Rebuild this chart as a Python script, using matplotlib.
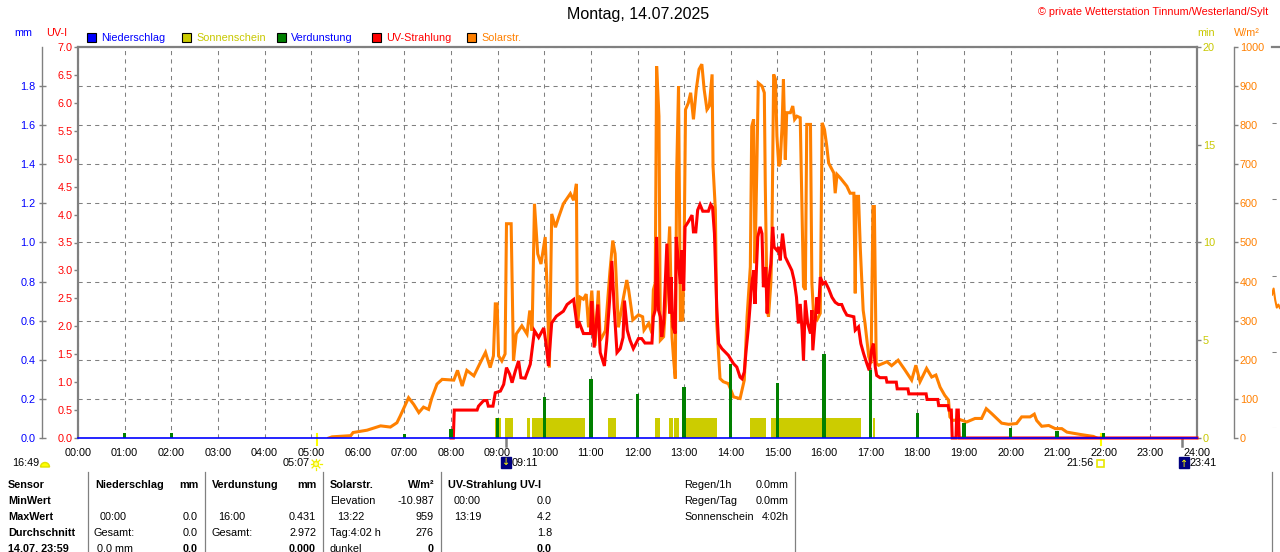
import math
import matplotlib
matplotlib.use("Agg")
import matplotlib.pyplot as plt
import matplotlib.patches as mpatches
import matplotlib.transforms as mtrans

plt.rcParams['font.family'] = ['Liberation Sans', 'DejaVu Sans']
plt.rcParams['font.size'] = 7.8

# ---------------------------------------------------------------- data
title = "Montag, 14.07.2025"
copyright_txt = "© private Wetterstation Tinnum/Westerland/Sylt"

hour_ticks = [0, 1, 2, 3, 4, 5, 6, 7, 8, 9, 10, 11, 12, 13, 14, 15, 16, 17, 18, 19, 20, 21, 22, 23, 24]
hour_labels = ["00:00", "01:00", "02:00", "03:00", "04:00", "05:00", "06:00", "07:00", "08:00",
               "09:00", "10:00", "11:00", "12:00", "13:00", "14:00", "15:00", "16:00", "17:00",
               "18:00", "19:00", "20:00", "21:00", "22:00", "23:00", "24:00"]

uv_ticks = [0.0, 0.5, 1.0, 1.5, 2.0, 2.5, 3.0, 3.5, 4.0, 4.5, 5.0, 5.5, 6.0, 6.5, 7.0]
mm_ticks = [0.0, 0.2, 0.4, 0.6, 0.8, 1.0, 1.2, 1.4, 1.6, 1.8]
sun_ticks = [0, 5, 10, 15, 20]
solar_ticks = [0, 100, 200, 300, 400, 500, 600, 700, 800, 900, 1000]

# Solar radiation (W/m2), time in decimal hours
solar_t = [5.38, 5.45, 5.85, 5.90, 6.20, 6.49, 6.70, 6.84, 6.91, 7.09,
           7.20, 7.31, 7.41, 7.52, 7.59, 7.70, 7.81, 8.06, 8.14, 8.24,
           8.34, 8.49, 8.63, 8.74, 8.84, 8.91, 8.95, 8.99, 9.02, 9.09,
           9.16, 9.19, 9.29, 9.34, 9.40, 9.52, 9.63, 9.69, 9.74, 9.79,
           9.86, 9.93, 10.02, 10.06, 10.11, 10.16, 10.24, 10.31, 10.41, 10.56,
           10.63, 10.69, 10.71, 10.77, 10.84, 10.90, 10.95, 11.02, 11.09, 11.16,
           11.20, 11.31, 11.41, 11.47, 11.52, 11.59, 11.70, 11.77, 11.81, 11.90,
           12.02, 12.11, 12.14, 12.24, 12.31, 12.34, 12.38, 12.41, 12.46, 12.49,
           12.56, 12.63, 12.69, 12.74, 12.77, 12.81, 12.84, 12.88, 12.92, 12.97,
           13.00, 13.03, 13.09, 13.14, 13.20, 13.26, 13.32, 13.38, 13.43, 13.49,
           13.54, 13.60, 13.62, 13.67, 13.70, 13.77, 13.84, 13.95, 14.06, 14.20,
           14.29, 14.35, 14.42, 14.45, 14.49, 14.52, 14.56, 14.59, 14.67, 14.72,
           14.74, 14.78, 14.81, 14.86, 14.88, 14.92, 14.96, 14.99, 15.03, 15.06,
           15.10, 15.13, 15.17, 15.20, 15.28, 15.33, 15.37, 15.42, 15.49, 15.53,
           15.56, 15.60, 15.63, 15.71, 15.74, 15.78, 15.85, 15.92, 15.96, 16.01,
           16.06, 16.10, 16.21, 16.24, 16.28, 16.35, 16.49, 16.56, 16.64, 16.67,
           16.69, 16.74, 16.78, 16.84, 16.88, 16.96, 17.01, 17.05, 17.08, 17.12,
           17.17, 17.35, 17.45, 17.59, 17.73, 17.88, 17.97, 18.06, 18.20, 18.31,
           18.40, 18.49, 18.59, 18.67, 18.70, 18.76, 18.92, 19.06, 19.24, 19.38,
           19.48, 19.60, 19.81, 19.96, 20.13, 20.24, 20.42, 20.51, 20.56, 20.67,
           20.82, 20.96, 21.10, 21.21, 21.50, 21.78, 21.85]
solar_v = [0, 3, 6, 14, 20, 31, 28, 39, 56, 103,
           86, 65, 79, 73, 103, 138, 150, 148, 173, 133,
           173, 159, 193, 219, 180, 210, 343, 343, 210, 197,
           215, 548, 548, 197, 266, 287, 266, 326, 274, 599,
           471, 445, 514, 385, 180, 573, 539, 565, 599, 625,
           608, 650, 283, 360, 355, 368, 283, 377, 236, 377,
           249, 274, 428, 505, 471, 283, 360, 404, 379, 302,
           315, 310, 276, 293, 268, 379, 396, 951, 823, 250,
           259, 396, 541, 259, 208, 152, 678, 900, 302, 302,
           481, 840, 857, 883, 815, 891, 943, 956, 891, 840,
           849, 930, 695, 584, 293, 152, 144, 139, 105, 101,
           148, 310, 438, 797, 815, 447, 695, 908, 900, 883,
           652, 327, 310, 396, 481, 930, 917, 772, 695, 703,
           797, 917, 712, 832, 832, 849, 815, 823, 819, 575,
           387, 379, 802, 802, 396, 310, 302, 319, 806, 789,
           746, 703, 678, 626, 674, 665, 644, 626, 626, 370,
           618, 618, 481, 327, 293, 208, 191, 592, 592, 191,
           186, 195, 185, 199, 175, 148, 186, 144, 178, 156,
           161, 130, 109, 97, 54, 45, 47, 41, 50, 50,
           75, 62, 38, 35, 37, 54, 54, 61, 45, 30,
           32, 24, 24, 15, 9, 4, 0]

# UV index, time in decimal hours
uv_t = [8.00, 8.05, 8.07, 8.56, 8.59, 8.70, 8.77, 8.80, 8.90, 8.95,
        9.06, 9.13, 9.19, 9.26, 9.31, 9.38, 9.45, 9.50, 9.59, 9.70,
        9.79, 9.88, 9.99, 10.04, 10.09, 10.16, 10.26, 10.41, 10.49, 10.63,
        10.71, 10.74, 10.84, 10.99, 11.02, 11.07, 11.15, 11.20, 11.29, 11.34,
        11.40, 11.45, 11.50, 11.56, 11.63, 11.69, 11.72, 11.78, 11.84, 11.91,
        12.02, 12.09, 12.16, 12.31, 12.34, 12.38, 12.41, 12.45, 12.49, 12.52,
        12.56, 12.63, 12.69, 12.72, 12.76, 12.81, 12.83, 12.88, 12.92, 12.95,
        12.99, 13.02, 13.09, 13.17, 13.20, 13.25, 13.29, 13.34, 13.40, 13.52,
        13.57, 13.61, 13.65, 13.70, 13.74, 13.81, 13.88, 13.95, 14.06, 14.13,
        14.20, 14.24, 14.29, 14.33, 14.38, 14.45, 14.49, 14.52, 14.58, 14.63,
        14.67, 14.70, 14.75, 14.78, 14.81, 14.86, 14.90, 14.93, 14.99, 15.03,
        15.06, 15.11, 15.17, 15.24, 15.31, 15.36, 15.41, 15.45, 15.49, 15.53,
        15.56, 15.60, 15.65, 15.71, 15.74, 15.76, 15.81, 15.85, 15.88, 15.92,
        15.98, 16.03, 16.10, 16.17, 16.24, 16.31, 16.38, 16.43, 16.49, 16.64,
        16.67, 16.74, 16.79, 16.85, 16.92, 16.97, 17.02, 17.06, 17.10, 17.13,
        17.20, 17.33, 17.35, 17.55, 17.57, 17.80, 17.82, 18.19, 18.21, 18.44,
        18.46, 18.66, 18.68, 18.73, 18.75, 18.83, 18.85, 18.88, 18.90, 24.00]
uv_v = [0.0, 0.0, 0.50, 0.50, 0.57, 0.67, 0.67, 0.57, 0.57, 0.81,
        0.84, 0.96, 1.26, 1.14, 0.99, 1.20, 1.38, 1.08, 1.07, 1.32,
        1.92, 1.80, 1.97, 1.68, 1.29, 2.06, 2.18, 2.27, 2.39, 2.48,
        1.97, 2.09, 1.87, 1.87, 2.45, 1.62, 2.39, 1.53, 1.29, 1.74,
        2.45, 3.17, 2.33, 1.53, 1.60, 1.80, 2.46, 1.93, 1.75, 1.60,
        1.78, 1.78, 1.70, 1.70, 2.17, 2.29, 3.60, 2.29, 2.17, 1.81,
        2.05, 3.48, 2.23, 2.88, 1.99, 1.87, 3.60, 3.12, 2.76, 3.36,
        2.64, 3.78, 3.87, 3.99, 3.69, 3.69, 4.08, 4.18, 4.06, 4.06,
        4.18, 4.13, 3.66, 2.34, 1.69, 1.60, 1.54, 1.48, 1.33, 1.27,
        1.09, 1.06, 1.18, 1.57, 1.99, 2.76, 3.00, 2.40, 3.60, 3.78,
        3.66, 2.70, 3.06, 2.23, 2.76, 3.12, 3.78, 3.42, 3.36, 3.42,
        3.18, 3.66, 3.24, 3.12, 3.00, 2.82, 2.52, 2.05, 2.40, 1.93,
        1.39, 2.46, 2.05, 1.87, 2.29, 1.57, 2.11, 2.52, 2.23, 2.88,
        2.76, 2.79, 2.67, 2.52, 2.43, 2.39, 2.39, 2.29, 2.20, 2.17,
        1.93, 1.99, 1.69, 1.51, 1.33, 1.21, 1.57, 1.69, 1.27, 1.12,
        1.08, 1.08, 1.00, 1.00, 0.88, 0.88, 0.79, 0.79, 0.69, 0.69,
        0.58, 0.58, 0.50, 0.50, 0.00, 0.00, 0.50, 0.50, 0.00, 0.00]

# Sunshine (minutes per minute) intervals
sun_start = ["08:56", "09:10", "09:38", "09:44", "11:22", "12:22", "12:40", "12:47",
             "12:58", "14:25", "14:52", "17:03"]
sun_end = ["09:04", "09:20", "09:42", "10:52", "11:32", "12:29", "12:46", "12:53",
           "13:42", "14:45", "16:47", "17:06"]
sun_min = [1.0, 1.0, 1.0, 1.0, 1.0, 1.0, 1.0, 1.0, 1.0, 1.0, 1.0, 1.0]

# Evaporation (mm) per hour
evap_hour = [1, 2, 7, 8, 9, 10, 11, 12, 13, 14, 15, 16, 17, 18, 19, 20, 21, 22]
evap_mm = [0.025, 0.025, 0.022, 0.048, 0.10, 0.21, 0.30, 0.227, 0.26, 0.38,
           0.28, 0.431, 0.35, 0.13, 0.078, 0.05, 0.036, 0.027]

# Precipitation (mm)
rain_t = [0.0, 24.0]
rain_mm = [0.0, 0.0]

sunrise, sunset = "05:07", "21:56"
moonrise, moonset = "09:11", "23:41"
day_length = "16:49"

# neighbouring (cut-off) chart at the right edge
nb_t = [0.0, 0.4, 0.8, 1.2, 1.6, 2.0, 2.4, 2.8]
nb_v = [175, 183, 168, 158, 162, 157, 160, 165]

# summary table
row_titles = ["Sensor", "MinWert", "MaxWert", "Durchschnitt", "14.07. 23:59"]

# ---------------------------------------------------------------- helpers
W, H = 1280, 552
fig = plt.figure(figsize=(W / 100, H / 100), dpi=100)
fig.patch.set_facecolor('white')

GRAY = '#808080'
RED = '#FF0000'
ORANGE = '#FF8000'
BLUE = '#0000FF'
GREEN = '#008000'
YEL = '#CCCC00'
YEL_TXT = '#C8C800'
NAVY = '#000080'
PT = 0.72  # points per pixel


def hm(s):
    h, m = s.split(':')
    return int(h) + int(m) / 60.0


def ftext(x, y, s, ha='left', color='black', size=7.8, weight='normal', **kw):
    fig.text(x / W, 1 - y / H, s, ha=ha, va='center', color=color,
             fontsize=size, fontweight=weight, **kw)


def prect(x, y, w, h, **kw):
    r = mpatches.Rectangle((x / 100, (H - y - h) / 100), w / 100, h / 100,
                           transform=fig.dpi_scale_trans, **kw)
    fig.add_artist(r)
    return r


def pline(x0, y0, x1, y1, **kw):
    l = plt.Line2D([x0 / 100, x1 / 100], [(H - y0) / 100, (H - y1) / 100],
                   transform=fig.dpi_scale_trans, **kw)
    fig.add_artist(l)


def sun_icon(cx, cy, color='#F0F000'):
    c = mpatches.Circle((cx / 100, (H - cy) / 100), 0.025,
                        transform=fig.dpi_scale_trans, facecolor='#FFFFA0',
                        edgecolor=color, linewidth=1.0)
    fig.add_artist(c)
    for k in range(8):
        a = k * math.pi / 4
        pline(cx + 3.5 * math.cos(a), cy + 3.5 * math.sin(a),
              cx + 5.5 * math.cos(a), cy + 5.5 * math.sin(a), color=color, lw=0.9)


X0, X1, YT, YB = 78, 1197, 47, 438
rect = [X0 / W, 1 - YB / H, (X1 - X0) / W, (YB - YT) / H]


def prep(ax):
    ax.set_xlim(0, 24)
    ax.patch.set_visible(False)
    for s in ax.spines.values():
        s.set_visible(False)
    ax.tick_params(axis='x', which='both', bottom=False, labelbottom=False,
                   top=False, labeltop=False)


ax_sol = fig.add_axes(rect)
ax_sun = fig.add_axes(rect)
ax_uv = fig.add_axes(rect)
ax_mm = fig.add_axes(rect)
for a in (ax_sol, ax_sun, ax_uv, ax_mm):
    prep(a)

# ---- solar axes: grid, top border, x labels, right offset axis
ax_sol.set_ylim(0, 1000)
ax_sol.set_xticks(hour_ticks)
ax_sol.set_xticklabels(hour_labels)
ax_sol.tick_params(axis='x', bottom=True, labelbottom=True, length=0, width=0,
                   pad=7.5, labelsize=7.8, labelcolor='black')
ax_sol.yaxis.tick_right()
ax_sol.set_yticks(solar_ticks)
ax_sol.set_yticklabels([str(v) for v in solar_ticks])
ax_sol.tick_params(axis='y', right=True, left=False, labelright=True, labelleft=False,
                   length=4 * PT, width=1, color=GRAY, labelcolor=ORANGE,
                   pad=1.2, labelsize=7.8)
ax_sol.spines['right'].set_visible(True)
ax_sol.spines['right'].set_position(('outward', 37 * PT))
ax_sol.spines['right'].set_color(GRAY)
ax_sol.spines['right'].set_linewidth(1.0)
ax_sol.spines['top'].set_visible(True)
ax_sol.spines['top'].set_color(GRAY)
ax_sol.spines['top'].set_linewidth(1.6)
ax_sol.grid(True, axis='both', color=GRAY, linestyle=(0, (4, 4)), linewidth=0.75)
ax_sol.set_axisbelow(True)
ax_sol.plot(solar_t, solar_v, color=ORANGE, lw=2.2, solid_joinstyle='miter', zorder=3)

# ---- sunshine axes
ax_sun.set_ylim(0, 20)
ax_sun.yaxis.tick_right()
ax_sun.set_yticks(sun_ticks)
ax_sun.set_yticklabels([str(v) for v in sun_ticks])
ax_sun.tick_params(axis='y', right=True, left=False, labelright=True, labelleft=False,
                   length=4 * PT, width=1, color=GRAY, labelcolor=YEL_TXT,
                   pad=1.2, labelsize=7.8)
ax_sun.spines['right'].set_visible(True)
ax_sun.spines['right'].set_color(GRAY)
ax_sun.spines['right'].set_linewidth(1.6)
s0 = [hm(s) for s in sun_start]
s1 = [hm(s) for s in sun_end]
ax_sun.bar(s0, sun_min, width=[b - a for a, b in zip(s0, s1)], align='edge',
           color=YEL, linewidth=0, zorder=2)

# ---- UV axes
ax_uv.set_ylim(0, 7)
ax_uv.set_yticks(uv_ticks)
ax_uv.set_yticklabels(["%.1f" % v for v in uv_ticks])
ax_uv.tick_params(axis='y', left=True, right=False, labelleft=True, labelright=False,
                  length=4.5 * PT, width=1, color=GRAY, labelcolor=RED,
                  pad=0.8, labelsize=7.8)
ax_uv.spines['left'].set_visible(True)
ax_uv.spines['left'].set_color(GRAY)
ax_uv.spines['left'].set_linewidth(1.6)
ax_uv.plot(uv_t, uv_v, color=RED, lw=2.2, solid_joinstyle='miter', zorder=3,
           clip_on=False)

# ---- mm axes (precipitation + evaporation)
ax_mm.set_ylim(0, 2.0)
ax_mm.set_yticks(mm_ticks)
ax_mm.set_yticklabels(["%.1f" % v for v in mm_ticks])
ax_mm.tick_params(axis='y', left=True, right=False, labelleft=True, labelright=False,
                  direction='inout', length=7 * PT, width=1, color=GRAY,
                  labelcolor=BLUE, pad=2.0, labelsize=7.8)
ax_mm.spines['left'].set_visible(True)
ax_mm.spines['left'].set_position(('outward', 36 * PT))
ax_mm.spines['left'].set_color(GRAY)
ax_mm.spines['left'].set_linewidth(1.0)
ax_mm.bar(evap_hour, evap_mm, width=0.075, color=GREEN, linewidth=0, zorder=2)
ax_mm.plot(rain_t, rain_mm, color=BLUE, lw=1.2, zorder=4, clip_on=False)

# ---- sun / moon markers at the time axis
blend = mtrans.blended_transform_factory(ax_sol.transData, ax_sol.transAxes)
for t in (sunrise, sunset):
    ax_sol.plot([hm(t), hm(t)], [0.01, -0.018], transform=blend, color='#FFFF00',
                lw=1.5, clip_on=False, zorder=5)
for t in (moonrise, moonset):
    ax_sol.plot([hm(t), hm(t)], [0.0, -0.02], transform=blend, color=GRAY,
                lw=1.8, clip_on=False, zorder=5)

# ---------------------------------------------------------------- header
ftext(638, 15, title, ha='center', size=11.5)
ftext(1268, 12, copyright_txt, ha='right', color=RED, size=7.8)
ftext(14, 33, "mm", color=BLUE)
ftext(46, 33, "UV-I", color=RED)
ftext(1197, 33, "min", color=YEL_TXT)
ftext(1234, 33, "W/m²", color=ORANGE)

legend = [(87, BLUE, "Niederschlag", BLUE),
          (182, YEL, "Sonnenschein", YEL_TXT),
          (277, GREEN, "Verdunstung", BLUE),
          (372, RED, "UV-Strahlung", RED),
          (467, ORANGE, "Solarstr.", ORANGE)]
for x, fc, lab, tc in legend:
    prect(x, 33, 9, 9, facecolor=fc, edgecolor='black', linewidth=0.8)
    ftext(x + 14, 38, lab, color=tc)

# ---------------------------------------------------------------- sun/moon row
ftext(12, 463, day_length)
w = mpatches.Wedge((45 / 100, (H - 467) / 100), 0.045, 0, 180,
                   transform=fig.dpi_scale_trans, facecolor='#FFFF00', edgecolor='#E0E000')
fig.add_artist(w)
ftext(310, 463, sunrise, ha='right')
sun_icon(316, 464)
prect(501, 457, 10, 11, facecolor=NAVY, edgecolor=NAVY)
ftext(506, 462, "↓", ha='center', color='#FFFF00', size=7, family='DejaVu Sans')
ftext(512, 463, moonrise)
ftext(1094, 463, sunset, ha='right')
prect(1097, 460, 7, 7, facecolor='none', edgecolor='#E8E800', linewidth=1.2)
prect(1179, 457, 10, 11, facecolor=NAVY, edgecolor=NAVY)
ftext(1184, 464, "↑", ha='center', color='#FFFF00', size=7, family='DejaVu Sans')
ftext(1190, 463, moonset)

# ---------------------------------------------------------------- table
for xs in (88, 205, 323, 441, 795, 1272):
    pline(xs, 472, xs, 552, color=GRAY, lw=0.9)

rows_y = [485, 501, 517, 533, 549]
for y, s in zip(rows_y, row_titles):
    ftext(8, y, s, weight='bold')

# Niederschlag
ftext(95, 485, "Niederschlag", weight='bold')
ftext(198, 485, "mm", ha='right', weight='bold')
ftext(100, 517, "00:00")
ftext(198, 517, "0.0", ha='right')
ftext(94, 533, "Gesamt:")
ftext(198, 533, "0.0", ha='right')
ftext(97, 549, "0.0 mm")
ftext(198, 549, "0.0", ha='right', weight='bold')
# Verdunstung
ftext(212, 485, "Verdunstung", weight='bold')
ftext(316, 485, "mm", ha='right', weight='bold')
ftext(218, 517, "16:00")
ftext(316, 517, "0.431", ha='right')
ftext(212, 533, "Gesamt:")
ftext(316, 533, "2.972", ha='right')
ftext(316, 549, "0.000", ha='right', weight='bold')
# Solarstr.
ftext(330, 485, "Solarstr.", weight='bold')
ftext(434, 485, "W/m²", ha='right', weight='bold')
ftext(330, 501, "Elevation")
ftext(434, 501, "-10.987", ha='right')
ftext(337, 517, "13:22")
ftext(434, 517, "959", ha='right')
ftext(330, 533, "Tag:4:02 h")
ftext(434, 533, "276", ha='right')
ftext(330, 549, "dunkel")
ftext(434, 549, "0", ha='right', weight='bold')
# UV
ftext(448, 485, "UV-Strahlung UV-I", weight='bold')
ftext(454, 501, "00:00")
ftext(552, 501, "0.0", ha='right')
ftext(454, 517, "13:19")
ftext(552, 517, "4.2", ha='right')
ftext(552, 533, "1.8", ha='right')
ftext(552, 549, "0.0", ha='right', weight='bold')
# right block
ftext(684, 485, "Regen/1h")
ftext(789, 485, "0.0mm", ha='right')
ftext(684, 501, "Regen/Tag")
ftext(789, 501, "0.0mm", ha='right')
ftext(684, 517, "Sonnenschein")
ftext(789, 517, "4:02h", ha='right')

# ---------------------------------------------------------------- neighbour chart stub
ax_nb = fig.add_axes([1272 / W, 1 - 428 / H, 40 / W, (428 - 47) / H])
ax_nb.set_xlim(0, 10)
ax_nb.set_ylim(0, 500)
ax_nb.patch.set_visible(False)
for k, s in ax_nb.spines.items():
    s.set_visible(k == 'top')
ax_nb.spines['top'].set_color(GRAY)
ax_nb.spines['top'].set_linewidth(1.6)
ax_nb.set_xticks([])
ax_nb.set_yticks([0, 100, 200, 300, 400])
ax_nb.tick_params(axis='y', left=False, labelleft=False)
ax_nb.grid(True, axis='y', color=GRAY, linestyle=(0, (4, 4)), linewidth=0.75)
ax_nb.plot(nb_t, nb_v, color=ORANGE, lw=1.5)

fig.savefig("out.png", dpi=100)
